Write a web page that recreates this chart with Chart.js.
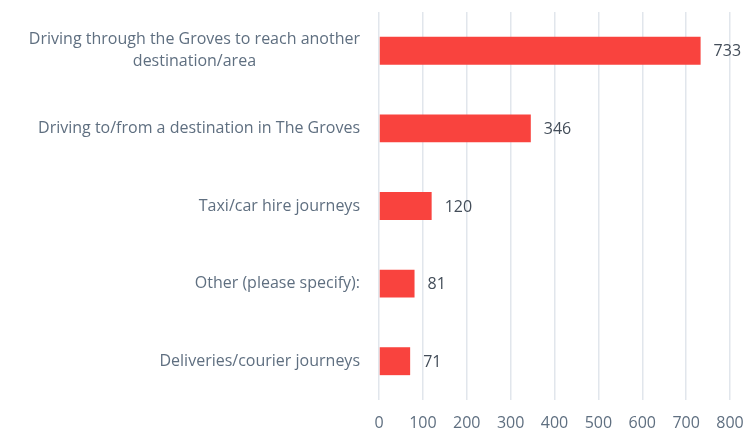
<!DOCTYPE html>
<html>
<head>
<meta charset="utf-8">
<script src="https://cdn.jsdelivr.net/npm/chart.js@4/dist/chart.umd.min.js"></script>
<style>
  html, body { margin: 0; padding: 0; background: #ffffff; }
  #wrap { width: 746px; height: 439px; position: relative; }
</style>
</head>
<body>
<div id="wrap"><canvas id="journeys-chart"></canvas></div>
<script>
// Journey types and number of responses
const categories = [
  ["Driving through the Groves to reach another", "destination/area"],
  "Driving to/from a destination in The Groves",
  "Taxi/car hire journeys",
  "Other (please specify):",
  "Deliveries/courier journeys",
];
const responses = [733, 346, 120, 81, 71];
const xTicks = [0, 100, 200, 300, 400, 500, 600, 700, 800];

const FONT = "'Open Sans', Lato, sans-serif";
const LABEL_COLOR = "#5f6f80";
const VALUE_COLOR = "#434d59";
const BAR_COLOR = "#f9433e";
const GRID_COLOR = "#e1e6ec";
const LINE_HEIGHT = 22;

// writes the count just past the end of each bar
const valueLabels = {
  id: "valueLabels",
  afterDatasetsDraw(chart) {
    const ctx = chart.ctx;
    const meta = chart.getDatasetMeta(0);
    ctx.save();
    ctx.font = "16px " + FONT;
    ctx.fillStyle = VALUE_COLOR;
    ctx.textAlign = "left";
    ctx.textBaseline = "middle";
    meta.data.forEach(function (bar, i) {
      ctx.fillText(String(responses[i]), bar.x + 13, bar.y + 1);
    });
    ctx.restore();
  },
};

// category names: block sits right of the axis gap, wrapped lines centred on each other
const categoryLabels = {
  id: "categoryLabels",
  afterDraw(chart) {
    const ctx = chart.ctx;
    const yScale = chart.scales.y;
    const right = yScale.right - 19;
    ctx.save();
    ctx.font = "16px " + FONT;
    ctx.fillStyle = LABEL_COLOR;
    ctx.textBaseline = "middle";
    categories.forEach(function (label, i) {
      const lines = Array.isArray(label) ? label : [label];
      const widest = Math.max.apply(null, lines.map(function (l) { return ctx.measureText(l).width; }));
      const cx = right - widest / 2;
      const cy = yScale.getPixelForTick(i);
      const top = cy - (lines.length - 1) * LINE_HEIGHT / 2;
      ctx.textAlign = "center";
      lines.forEach(function (line, j) {
        ctx.fillText(line, cx, top + j * LINE_HEIGHT);
      });
    });
    ctx.restore();
  },
};

new Chart(document.getElementById("journeys-chart"), {
  type: "bar",
  data: {
    labels: categories,
    datasets: [
      {
        data: responses,
        backgroundColor: BAR_COLOR,
        borderWidth: 0,
        barPercentage: 0.36,
        categoryPercentage: 1,
      },
    ],
  },
  options: {
    indexAxis: "y",
    responsive: true,
    maintainAspectRatio: false,
    animation: false,
    layout: {
      padding: { top: 12, right: 16, bottom: 0, left: 0 },
    },
    plugins: {
      legend: { display: false },
      tooltip: { enabled: false },
    },
    scales: {
      x: {
        min: 0,
        max: 800,
        afterBuildTicks: function (axis) {
          axis.ticks = xTicks.map(function (v) { return { value: v }; });
        },
        afterFit: function (axis) {
          axis.height = 39;
          axis.paddingLeft = 0;
          axis.paddingRight = 0;
        },
        border: { display: false },
        grid: { color: GRID_COLOR, lineWidth: 1.5, drawTicks: false },
        ticks: {
          color: LABEL_COLOR,
          padding: 14,
          maxRotation: 0,
          font: { family: FONT, size: 16 },
        },
      },
      y: {
        afterFit: function (axis) {
          axis.width = 379;
          axis.paddingTop = 0;
          axis.paddingBottom = 0;
        },
        border: { display: false },
        grid: { display: false, drawTicks: false },
        ticks: { display: false },
      },
    },
  },
  plugins: [valueLabels, categoryLabels],
});
</script>
</body>
</html>
